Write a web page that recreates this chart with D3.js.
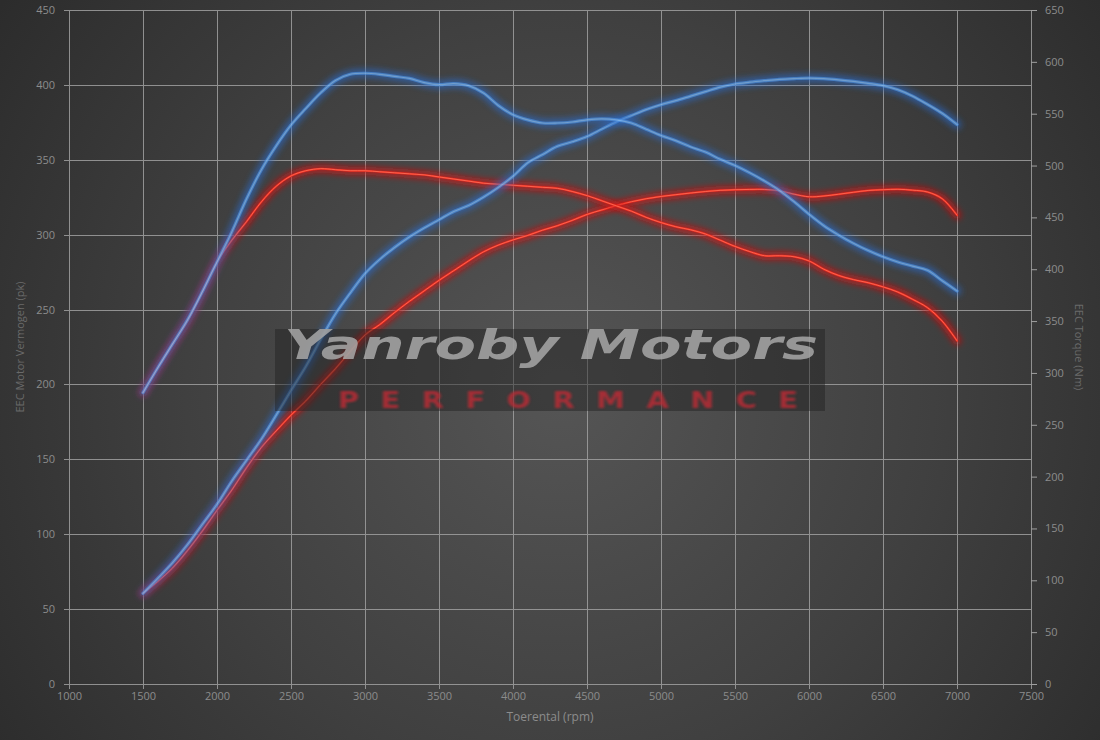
<!DOCTYPE html>
<html>
<head>
<meta charset="utf-8">
<script src="https://cdn.jsdelivr.net/npm/d3@7"></script>
<style>
  html, body { margin: 0; padding: 0; background: #333; }
  svg { display: block; }
</style>
</head>
<body>
<svg id="chart" width="1100" height="740"></svg>
<script>
// ---------- DATA ----------
const rpm = [1500,1600,1700,1800,1900,2000,2100,2200,2300,2400,2500,2600,2700,2800,2900,3000,
  3100,3200,3300,3400,3500,3600,3700,3800,3900,4000,4100,4200,4300,4400,4500,4600,4700,4800,4900,5000,
  5100,5200,5300,5400,5500,5600,5700,5800,5900,6000,6100,6200,6300,6400,6500,6600,6700,6800,6900,7000];

// Torque (Nm, right axis)
const torqueStock = [281,305,328,350,378,407,428,446,465,480,490,495,497,496,495,495,
  494,493,492,491,489,487,485,483,482,481,480,479,478,475,471,466,461,456,450,445,
  441,438,434,428,422,417,413,413,412,408,400,394,390,387,383,378,371,363,350,331];
const torqueTuned = [281,305,328,351,378,407,436,468,496,519,539,555,570,582,588,589,
  588,586,584,580,578,579,577,570,558,549,544,541,541,542,544,545,544,541,535,529,
  524,518,513,506,500,493,485,476,465,453,442,433,425,418,412,407,403,399,389,379];

// Power (pk, left axis)
const powerStock = [60.5,68.5,77.5,89,102,116,129.5,144.5,158,169,179.5,189,200,210.5,222,233,
  240,248,255.5,262.5,269.5,276,282.5,288.5,293,296.5,299.5,303,306,309.5,313.5,316.5,319.5,322,324,325.5,
  326.7,327.8,328.8,329.6,330,330.2,330.2,329.3,327,325.3,325.8,327,328.3,329.5,330,330.3,329.7,328.5,324,313];
const powerTuned = [60.5,70.5,81,93,106.5,120,135.5,149.5,163.5,179.5,196,212,230,247,261,274,
  283.5,291.5,298.5,304.5,310,315.5,319.5,325,331.5,339,348,353.5,359,362,365.5,370.5,375.4,379.5,383.5,386.8,
  389.5,392.5,395.5,398.5,400.6,401.8,402.8,403.7,404.2,404.5,404.2,403.4,402.3,401,399.5,396.8,392.5,387,381,373.5];

const xTicks = [1000,1500,2000,2500,3000,3500,4000,4500,5000,5500,6000,6500,7000,7500];
const leftTicks = [0,50,100,150,200,250,300,350,400,450];
const rightTicks = [0,50,100,150,200,250,300,350,400,450,500,550,600,650];

const xTitle = "Toerental (rpm)";
const leftTitle = "EEC Motor Vermogen (pk)";
const rightTitle = "EEC Torque (Nm)";
const brandTitle = "Yanroby Motors";
const brandSub = "PERFORMANCE";

// ---------- CHART ----------
const W = 1100, H = 740;
const L = 69, R = 1031, T = 10, B = 684;
const svg = d3.select("#chart");
const defs = svg.append("defs");

const bg = defs.append("radialGradient").attr("id", "bg")
  .attr("gradientUnits", "userSpaceOnUse")
  .attr("cx", 560).attr("cy", 390).attr("r", 680);
bg.append("stop").attr("offset", "0").attr("stop-color", "#555555");
bg.append("stop").attr("offset", "0.55").attr("stop-color", "#404040");
bg.append("stop").attr("offset", "1").attr("stop-color", "#2c2c2c");

const glow = defs.append("filter").attr("id", "glow")
  .attr("x", "-10%").attr("y", "-10%").attr("width", "120%").attr("height", "120%");
glow.append("feGaussianBlur").attr("stdDeviation", 3);

const soft = defs.append("filter").attr("id", "soft");
soft.append("feGaussianBlur").attr("stdDeviation", 0.7);

const softer = defs.append("filter").attr("id", "softer");
softer.append("feGaussianBlur").attr("stdDeviation", 1.1);

svg.append("rect").attr("width", W).attr("height", H).attr("fill", "url(#bg)");

const x = d3.scaleLinear().domain([1000, 7500]).range([L, R]);
const yL = d3.scaleLinear().domain([0, 450]).range([B, T]);
const yR = d3.scaleLinear().domain([0, 650]).range([B, T]);

const gridColor = "#a0a0a0";
const textColor = "#8c8c8c";
const font = "'Open Sans', 'DejaVu Sans', sans-serif";
const fmt = d3.format("d");

// Grid
const grid = svg.append("g").attr("stroke", gridColor).attr("stroke-width", 1).attr("opacity", 0.85);
grid.selectAll("line.v").data(xTicks).join("line")
  .attr("x1", d => Math.round(x(d)) + 0.5).attr("x2", d => Math.round(x(d)) + 0.5)
  .attr("y1", T).attr("y2", B + 5);
grid.selectAll("line.h").data(leftTicks).join("line")
  .attr("x1", L - 5).attr("x2", R)
  .attr("y1", d => Math.round(yL(d)) + 0.5).attr("y2", d => Math.round(yL(d)) + 0.5);

// Axes
const axX = d3.axisBottom(x).tickValues(xTicks).tickFormat(fmt).tickSize(0).tickPadding(8);
const gX = svg.append("g").attr("transform", `translate(0,${B})`).call(axX);
const axLft = d3.axisLeft(yL).tickValues(leftTicks).tickFormat(fmt).tickSize(0).tickPadding(14);
const gL = svg.append("g").attr("transform", `translate(${L},0)`).call(axLft);
const axRgt = d3.axisRight(yR).tickValues(rightTicks).tickFormat(fmt).tickSize(6).tickPadding(8);
const gR = svg.append("g").attr("transform", `translate(${R},0)`).call(axRgt);
[gX, gL, gR].forEach(g => {
  g.select(".domain").remove();
  g.selectAll(".tick line").attr("stroke", gridColor);
  g.selectAll(".tick text").attr("fill", textColor)
    .style("font-family", font).style("font-size", "11px");
});

// Axis titles
svg.append("text").attr("x", (L + R) / 2).attr("y", 721).attr("text-anchor", "middle")
  .attr("fill", textColor).style("font-family", font).style("font-size", "12px").text(xTitle);
svg.append("text").attr("transform", `translate(24,347) rotate(-90)`).attr("text-anchor", "middle")
  .attr("fill", "#6a6a6a").style("font-family", font).style("font-size", "11px").text(leftTitle);
svg.append("text").attr("transform", `translate(1075,347) rotate(90)`).attr("text-anchor", "middle")
  .attr("fill", "#6a6a6a").style("font-family", font).style("font-size", "11px").text(rightTitle);

// Curves
const series = [
  { vals: powerStock, y: yL, kind: "red" },
  { vals: torqueStock, y: yR, kind: "red" },
  { vals: powerTuned, y: yL, kind: "blue" },
  { vals: torqueTuned, y: yR, kind: "blue" }
];
const styles = {
  red:  { glow: "#d41414", gw: 8, mid: "#ec2a1e", mw: 2, core: "#ff8068", cw: 0.8, op: 1 },
  blue: { glow: "#2a6cd0", gw: 9, mid: "#4a8ee2", mw: 3.2, core: "#86bcf2", cw: 1.2, op: 0.8 }
};
const curves = svg.append("g");
series.forEach(s => {
  const line = d3.line().x((d, i) => x(rpm[i])).y(d => s.y(d)).curve(d3.curveCatmullRom.alpha(0.5));
  const st = styles[s.kind];
  const g = curves.append("g").attr("opacity", st.op);
  g.append("path").attr("d", line(s.vals)).attr("fill", "none")
    .attr("stroke", st.glow).attr("stroke-width", st.gw).attr("stroke-opacity", 0.75)
    .attr("stroke-linecap", "round").attr("filter", "url(#glow)");
  g.append("path").attr("d", line(s.vals)).attr("fill", "none")
    .attr("stroke", st.mid).attr("stroke-width", st.mw)
    .attr("stroke-linecap", "round").attr("filter", "url(#soft)");
  g.append("path").attr("d", line(s.vals)).attr("fill", "none")
    .attr("stroke", st.core).attr("stroke-width", st.cw)
    .attr("stroke-opacity", 0.85).attr("stroke-linecap", "round");
});

// Watermark
const wm = svg.append("g");
wm.append("rect").attr("x", 275).attr("y", 329).attr("width", 550).attr("height", 82)
  .attr("fill", "#1e1e1e").attr("opacity", 0.45);
wm.append("text").attr("x", 284).attr("y", 359)
  .attr("textLength", 534).attr("lengthAdjust", "spacingAndGlyphs")
  .attr("fill", "#a8a8a8").attr("opacity", 0.85)
  .style("font-family", "'DejaVu Sans', sans-serif").style("font-weight", "bold")
  .style("font-style", "italic").style("font-size", "40px").text(brandTitle);
wm.append("text").attr("transform", "translate(338,408) scale(1.25,1)")
  .attr("textLength", 368).attr("lengthAdjust", "spacing")
  .attr("fill", "#c02a36").attr("opacity", 0.8).attr("filter", "url(#softer)")
  .style("font-family", "'DejaVu Sans', sans-serif").style("font-weight", "bold")
  .style("font-size", "23px").text(brandSub);
</script>
</body>
</html>
